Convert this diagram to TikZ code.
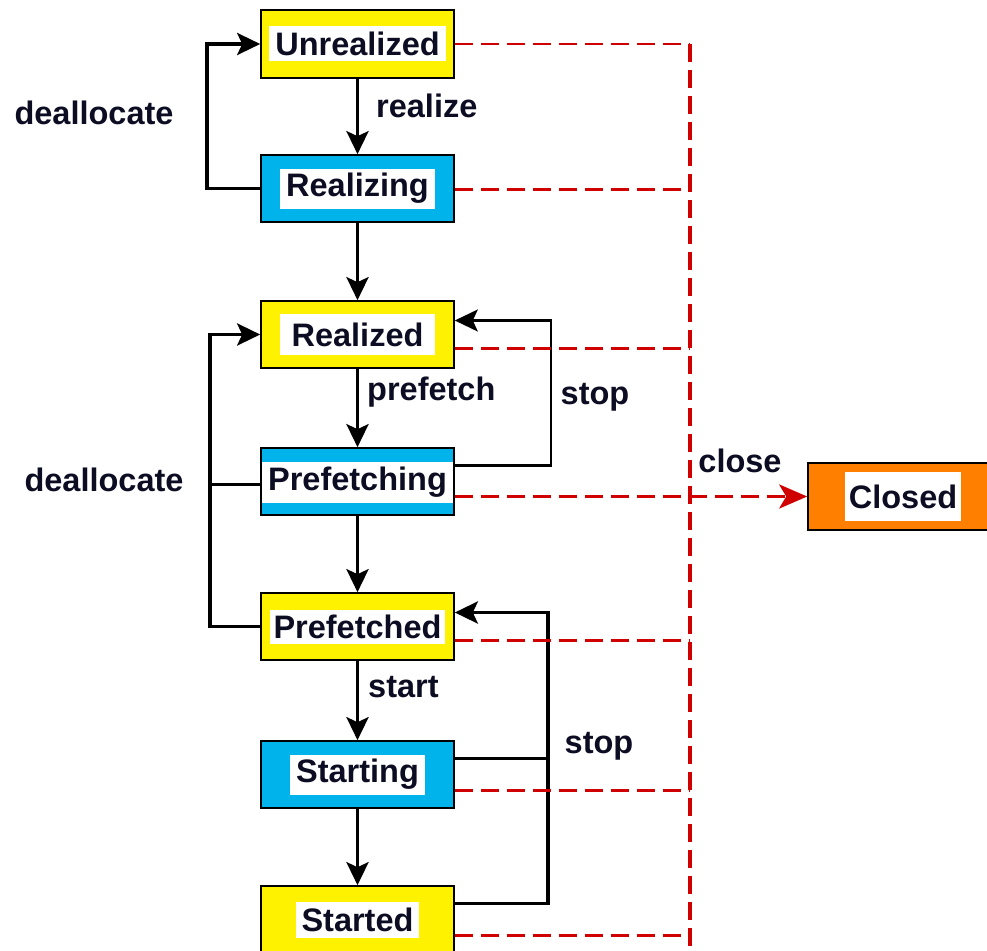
\documentclass[tikz,border=0pt]{standalone}
\usepackage{fontspec}
\setmainfont{Liberation Sans}
\usetikzlibrary{positioning, arrows.meta}
\usepackage{xcolor}
\definecolor{stateyellow}{RGB}{255,242,0}
\definecolor{statecyan}{RGB}{0,180,235}
\definecolor{closedorange}{RGB}{255,128,0}
\definecolor{closered}{RGB}{208,0,0}
\definecolor{inkblue}{RGB}{12,12,34}

\begin{document}
\begin{tikzpicture}[
    x=1pt, y=-1pt,
    >={Stealth[length=23pt, width=22pt, inset=5pt]},
    statebox/.style={rectangle, draw=black, line width=1.6pt, minimum width=193pt, minimum height=67pt, inner sep=0pt},
    statetag/.style={rectangle, fill=white, inner xsep=6pt, inner ysep=0pt, minimum height=38pt, text=inkblue, font=\fontsize{32.5}{38}\selectfont\bfseries},
    flow/.style={->, line width=3.8pt},
    thinflow/.style={line width=2.2pt},
    closeline/.style={draw=closered, line width=3.4pt, dash pattern=on 18pt off 8pt},
    lbl/.style={inner sep=0pt, text=inkblue, font=\fontsize{32.5}{38}\selectfont\bfseries},
]

% === Canvas ===
\useasboundingbox (0,0) rectangle (987,950);
\fill[white] (0,0) rectangle (987,950);

% === State boxes ===
\node[statebox, fill=stateyellow, minimum height=68pt] (unreal) at (357.5, 44) {};
\node[statebox, fill=statecyan] (realizing) at (357.5, 188.5) {};
\node[statebox, fill=stateyellow] (realized) at (357.5, 334.5) {};
\node[statebox, fill=statecyan] (prefetching) at (357.5, 481.5) {};
\node[statebox, fill=stateyellow] (prefetched) at (357.5, 626.5) {};
\node[statebox, fill=statecyan] (starting) at (357.5, 774.5) {};
\node[statebox, fill=stateyellow] (started) at (357.5, 919.5) {};
\node[statebox, fill=closedorange, minimum width=190pt] (closed) at (903, 496.5) {};

% === White name tags ===
\node[statetag, minimum height=35pt] (unrealTag) at (unreal) {Unrealized};
\node[statetag, minimum height=40pt] (realizingTag) at (realizing) {Realizing};
\node[statetag, minimum height=41pt, inner xsep=12pt] (realizedTag) at (realized) {Realized};
\node[statetag, minimum height=41pt, minimum width=190pt] (prefetchingTag) at ([yshift=-1pt]prefetching) {Prefetching};
\node[statetag, minimum height=34pt, inner xsep=4pt] (prefetchedTag) at (prefetched) {Prefetched};
\node[statetag, minimum height=40pt] (startingTag) at (starting) {Starting};
\node[statetag, minimum height=36pt] (startedTag) at (started) {Started};
\node[statetag, minimum height=49pt, inner xsep=4pt] (closedTag) at (closed) {Closed};

% === Main transitions ===
\draw[flow] (unreal) -- (realizing);
\draw[flow] (realizing) -- (realized);
\draw[flow] (realized) -- (prefetching);
\draw[flow] (prefetching) -- (prefetched);
\draw[flow] (prefetched) -- (starting);
\draw[flow] (starting) -- (started);

\node[lbl, anchor=west] (realizeLbl) at (376, 106) {realize};
\node[lbl, anchor=west] (prefetchLbl) at (367, 392) {prefetch};
\node[lbl, anchor=west] (startLbl) at (368, 687) {start};

% === Deallocate loops (left) ===
\coordinate (deallocA) at (207, 0);
\coordinate (deallocB) at (210, 0);
\draw[flow] (realizing.west) -- (realizing.west -| deallocA) |- (unreal.west);
\draw[flow] (prefetched.west) -- (prefetched.west -| deallocB) |- (realized.west);
\draw[line width=3.8pt] ([yshift=-3pt]prefetching.west) -- ([yshift=-3pt]prefetching.west -| deallocB);

\node[lbl] (deallocLblA) at (94, 113) {deallocate};
\node[lbl] (deallocLblB) at (104, 480) {deallocate};

% === Stop loops (right) ===
\coordinate (stopA) at (551, 0);
\coordinate (stopB) at (548, 0);
\draw[thinflow, ->] ([yshift=16pt]prefetching.east) -- ([yshift=16pt]prefetching.east -| stopA) |- ([yshift=14pt]realized.east);
\draw[flow] ([yshift=16pt]started.east) -- ([yshift=16pt]started.east -| stopB) |- ([yshift=14pt]prefetched.east);
\draw[thinflow] ([yshift=16pt]starting.east) -- ([yshift=16pt]starting.east -| stopB);

\node[lbl] (stopLblA) at (595, 397) {stop};
\node[lbl] (stopLblB) at (599, 746) {stop};

% === Close transitions (dashed bus) ===
\coordinate (bus) at (690, 0);
\draw[closeline, line width=2.2pt] (unreal.east) -- (unreal.east -| bus);
\draw[closeline] (unreal.east -| bus) -- (started.south -| bus);
\draw[closeline] ([yshift=-1pt]realizing.east) -- ([yshift=-1pt]realizing.east -| bus);
\draw[closeline] ([yshift=-14pt]realized.east) -- ([yshift=-14pt]realized.east -| bus);
\draw[closeline, -{Stealth[length=28pt, width=24pt, inset=7pt]}] ([yshift=-15pt]prefetching.east) -- (closed.west);
\draw[closeline] ([yshift=-14pt]prefetched.east) -- ([yshift=-14pt]prefetched.east -| bus);
\draw[closeline] ([yshift=-16pt]starting.east) -- ([yshift=-16pt]starting.east -| bus);
\draw[closeline] ([yshift=-16pt]started.east) -- ([yshift=-16pt]started.east -| bus);

\node[lbl] (closeLbl) at (740, 461) {close};

\end{tikzpicture}
\end{document}
